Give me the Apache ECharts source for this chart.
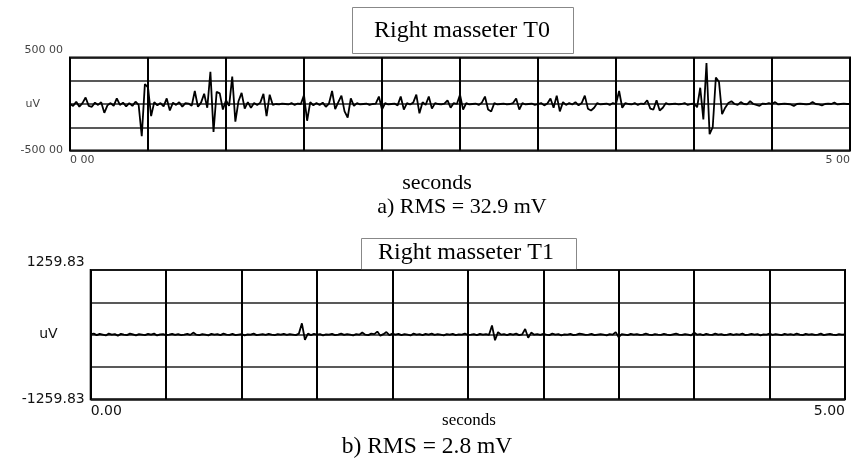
<!DOCTYPE html>
<html><head><meta charset="utf-8">
<script src="https://cdn.jsdelivr.net/npm/echarts@6/dist/echarts.min.js"></script>
<style>html,body{margin:0;padding:0;background:#fff}#c{width:853px;height:459px}</style>
</head><body><div id="c"></div>
<script>
// sampling step (seconds)
var dt = 0.02;
// Right masseter T0 (uV), 251 samples over 0..5 s
var valuesT0 = [
  0, -20, 25, -30, 10, 70, -20, -30, 15, -10,
  20, -95, -15, 10, -20, 60, -10, 15, -25, 10,
  -20, 25, -10, -345, 215, 180, -130, 20, -15, 10,
  -25, 60, -70, 15, -10, 20, -30, 10, 5, -20,
  140, -30, 15, 110, -40, 345, -300, 130, 115, -60,
  40, -20, 295, -190, 30, 120, -50, 20, -40, 10,
  -10, 15, 110, -130, 100, -10, 0, -5, 5, 0,
  -5, 10, -10, 5, 0, 95, -180, 20, -15, 10,
  -10, 15, -30, 5, 140, -55, 20, 90, -80, -145,
  60, -20, 10, -5, 0, 5, -10, 0, 5, 80,
  -60, 10, -5, 0, 5, -15, 80, -60, 10, -5,
  15, 100, -100, 20, -10, 80, -50, 10, 0, -5,
  5, 40, -40, 10, 0, 100, -60, 10, -5, 0,
  5, -10, 15, 80, -60, -80, 10, -5, 0, 5,
  -5, 0, 10, 60, -60, 10, -5, 0, 5, -10,
  0, 10, -15, 5, 60, -40, 90, -80, 20, -10,
  10, -5, 20, -15, 10, 90, -50, -70, -40, 10,
  -5, 0, 5, -10, 10, 0, 140, -40, 10, 0,
  -5, 10, -10, 5, 0, 40, -50, -60, 40, -70,
  -40, 10, -5, 0, 5, -5, 0, 10, -10, 0,
  5, -35, 175, -165, 440, -325, -250, 285, 240, -110,
  -40, 10, 30, 0, -10, 20, 0, -5, 30, 0,
  -10, -20, 5, 0, 10, 0, 20, -5, 0, 5,
  0, -5, -20, 0, 5, 0, -5, 0, 20, 0,
  -5, -15, 0, 5, 0, 15, -5, 0, 5, 0,
  0
];
// Right masseter T1 (uV), 251 samples over 0..5 s
var valuesT1 = [
  10, 20, -10, 15, 0, -15, 20, 0, 10, -20,
  15, 0, -10, 20, 5, -15, 10, 0, -10, 15,
  0, 20, -15, 5, 10, -10, 0, 15, -5, 10,
  -10, 0, 15, -5, 40, 0, -10, 10, 0, -15,
  15, 0, 10, -10, 20, 0, -5, 15, -10, 0,
  10, -15, 5, 0, 20, -10, 0, 10, -5, 15,
  0, -10, 10, 0, 15, -5, 10, 0, -10, 20,
  220, -100, 20, -10, 15, 0, 10, -15, 5, 0,
  15, -10, 0, 20, -5, 10, 0, -15, 10, 0,
  40, 0, -10, 20, 10, 60, -20, 10, 50, -10,
  20, 0, 15, -10, 10, 0, -15, 20, 0, 10,
  -10, 15, 0, 20, -5, 10, 0, -15, 10, 0,
  15, -10, 5, 0, 20, -5, 0, 10, -10, 15,
  0, 10, -5, 180, -110, 50, 0, 10, -10, 15,
  0, 20, -10, 5, 110, -60, 40, 0, 10, -5,
  15, 0, -10, 20, 0, 10, -15, 5, 0, 15,
  -10, 0, 20, 10, -5, 0, 15, -10, 0, 10,
  0, -15, 10, 0, 50, -50, 10, 0, -10, 15,
  0, 10, -5, 0, 20, 0, -10, 10, 0, -5,
  15, 0, -10, 5, 20, 0, -5, 10, 0, -15,
  40, 0, 10, -10, 15, 0, -5, 20, 0, 10,
  -10, 0, 15, -5, 10, 0, 20, -10, 0, 15,
  0, 10, -15, 5, 0, 20, -5, 10, 0, -10,
  15, 0, 10, -5, 20, 0, -10, 15, 0, 10,
  -5, 0, 20, -10, 5, 15, 0, -10, 10, 0,
  5
];
// axis ranges and labels
var timeRange = [0, 5];
var yRangeT0 = [-500, 500];
var yRangeT1 = [-1259.83, 1259.83];
var xLabelsT0 = ['0 00', '5 00'];
var xLabelsT1 = ['0.00', '5.00'];
var yLabelsT0 = ['500 00', 'uV', '-500 00'];
var yLabelsT1 = ['1259.83', 'uV', '-1259.83'];
var titles = ['Right masseter T0', 'Right masseter T1'];
var captions = ['a) RMS = 32.9 mV', 'b) RMS = 2.8 mV'];
var xName = 'seconds';

function pairs(arr){ return arr.map(function(v,i){ return [+(i*dt).toFixed(4), v]; }); }
function near(a,b){ return Math.abs(a-b) < 1e-3; }

var chart = echarts.init(document.getElementById('c'), null, {renderer:'canvas'});

function xAxisCfg(gi, labels, font, margin, col){
  return {
    type:'value', gridIndex:gi, min:timeRange[0], max:timeRange[1], interval:0.5,
    axisLine:{show:false}, axisTick:{show:false},
    splitLine:{show:true, lineStyle:{color:'#000', width:2}},
    axisLabel:{
      show:true, margin:margin, color:col, fontFamily:'DejaVu Sans', fontSize:font,
      alignMinLabel:'left', alignMaxLabel:'right', showMinLabel:true, showMaxLabel:true,
      formatter:function(v){ if(near(v,timeRange[0])) return labels[0]; if(near(v,timeRange[1])) return labels[1]; return ''; }
    }
  };
}
function yAxisCfg(gi, range, labels, font, margin, upShift, uvPad, col){
  var iv = (range[1]-range[0])/4;
  return {
    type:'value', gridIndex:gi, min:range[0], max:range[1], interval:iv,
    axisLine:{show:false}, axisTick:{show:false},
    splitLine:{show:true, lineStyle:{color:'#222', width:1.5}},
    axisLabel:{
      show:true, margin:margin, color:col, fontFamily:'DejaVu Sans', fontSize:font,
      showMinLabel:true, showMaxLabel:true,
      formatter:function(v){
        if(near(v,range[1])) return '{up|'+labels[0]+'}';
        if(near(v,0)) return '{uv|'+labels[1]+'}';
        if(near(v,range[0])) return labels[2];
        return '';
      },
      rich:{
        up:{fontFamily:'DejaVu Sans', fontSize:font, color:col, padding:[0,0,upShift,0]},
        uv:{fontFamily:'DejaVu Sans', fontSize:font, color:col, padding:[0,uvPad,0,0]}
      }
    }
  };
}

var option = {
  animation:false,
  backgroundColor:'#fff',
  grid:[
    {left:70, top:57.5, width:780, height:93, show:true, borderColor:'#000', borderWidth:2, backgroundColor:'transparent'},
    {left:90.7, top:270, width:754.3, height:129.3, show:true, borderColor:'#000', borderWidth:2, backgroundColor:'transparent'}
  ],
  xAxis:[ xAxisCfg(0, xLabelsT0, 11, 4, '#444'), xAxisCfg(1, xLabelsT1, 14, 5, '#111') ],
  yAxis:[ yAxisCfg(0, yRangeT0, yLabelsT0, 11, 7, 15, 23, '#444'), yAxisCfg(1, yRangeT1, yLabelsT1, 14, 6, 16, 27, '#111') ],
  series:[
    {type:'line', xAxisIndex:0, yAxisIndex:0, data:pairs(valuesT0), showSymbol:false, lineStyle:{color:'#000', width:1.8}, silent:true},
    {type:'line', xAxisIndex:1, yAxisIndex:1, data:pairs(valuesT1), showSymbol:false, lineStyle:{color:'#000', width:1.8}, silent:true}
  ],
  graphic:[
    {type:'rect', shape:{x:352.5, y:7.5, width:221, height:46}, style:{fill:'#fff', stroke:'#888', lineWidth:1}},
    {type:'text', x:462, y:31, style:{text:titles[0], font:'24px "Liberation Serif"', fill:'#000', textAlign:'center', textVerticalAlign:'middle'}},
    {type:'text', x:437, y:183, style:{text:xName, font:'22px "Liberation Serif"', fill:'#000', textAlign:'center', textVerticalAlign:'middle'}},
    {type:'text', x:462, y:207, style:{text:captions[0], font:'22px "Liberation Serif"', fill:'#000', textAlign:'center', textVerticalAlign:'middle'}},
    {type:'rect', shape:{x:361.5, y:238.5, width:215, height:31}, style:{fill:'#fff', stroke:'#888', lineWidth:1}},
    {type:'text', x:466, y:253, style:{text:titles[1], font:'24px "Liberation Serif"', fill:'#000', textAlign:'center', textVerticalAlign:'middle'}},
    {type:'text', x:469, y:421, style:{text:xName, font:'17px "Liberation Serif"', fill:'#000', textAlign:'center', textVerticalAlign:'middle'}},
    {type:'text', x:427, y:447, style:{text:captions[1], font:'23.5px "Liberation Serif"', fill:'#000', textAlign:'center', textVerticalAlign:'middle'}}
  ]
};
chart.setOption(option);
</script>
</body></html>
